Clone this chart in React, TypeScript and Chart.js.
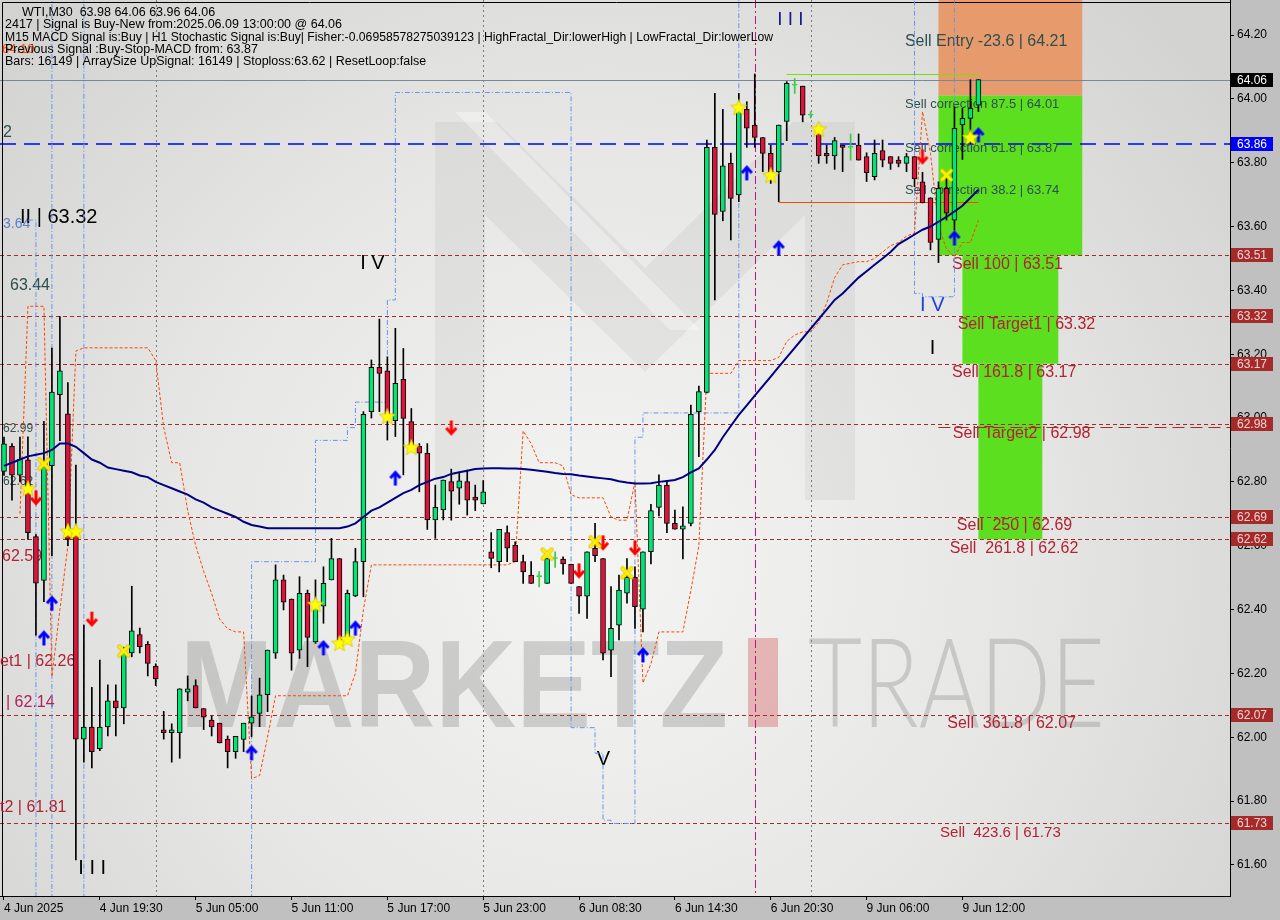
import React, { useEffect, useRef } from 'react';
import { Chart, registerables } from 'chart.js';

Chart.register(...registerables);

const FONT = '"Liberation Sans", Arial, sans-serif';
const SLOTS = 154;
const Y_MIN = 61.5026;
const Y_MAX = 64.3097;

const xTickIdx = [0, 12, 24, 36, 48, 60, 72, 84, 96, 108, 120];
const xTickText = ['4 Jun 2025', '4 Jun 19:30', '5 Jun 05:00', '5 Jun 11:00', '5 Jun 17:00', '5 Jun 23:00', '6 Jun 08:30', '6 Jun 14:30', '6 Jun 20:30', '9 Jun 06:00', '9 Jun 12:00'];
const yTicks = [64.2, 64.0, 63.8, 63.6, 63.4, 63.2, 63.0, 62.8, 62.6, 62.4, 62.2, 62.0, 61.8, 61.6];

const opens = [62.833, 62.911, 62.821, 62.869, 62.629, 62.491, 62.851, 63.073, 63.013, 62.635,
  61.994, 62.032, 61.964, 62.032, 62.114, 62.092, 62.264, 62.322, 62.291, 62.222,
  62.023, 62.014, 62.014, 62.141, 62.162, 62.09, 62.054, 62.044, 61.994, 61.955,
  61.993, 62.044, 62.075, 62.133, 62.263, 62.493, 62.433, 62.273, 62.451, 62.299,
  62.411, 62.493, 62.56, 62.315, 62.443, 62.55, 63.02, 63.159, 63.148, 62.992,
  63.121, 62.989, 62.912, 62.89, 62.681, 62.712, 62.801, 62.78, 62.801, 62.752,
  62.731, 62.581, 62.55, 62.641, 62.602, 62.55, 62.508, 62.503, 62.482, 62.56,
  62.558, 62.542, 62.472, 62.442, 62.592, 62.56, 62.273, 62.351, 62.451, 62.501,
  62.401, 62.581, 62.72, 62.79, 62.67, 62.652, 62.67, 63.02, 63.08, 63.848,
  63.647, 63.798, 63.699, 63.967, 63.918, 63.879, 63.829, 63.772, 63.929, 64.043,
  64.04, 63.949, 63.897, 63.829, 63.821, 63.855, 63.848, 63.855, 63.819, 63.756,
  63.838, 63.819, 63.808, 63.798, 63.819, 63.74, 63.69, 63.56, 63.72, 63.62,
  63.918, 63.939, 63.98];

const highs = [62.94, 62.92, 62.94, 62.941, 62.635, 62.99, 63.219, 63.318, 63.111, 62.853,
  62.351, 62.156, 62.242, 62.164, 62.164, 62.282, 62.473, 62.342, 62.30, 62.23,
  62.081, 62.042, 62.152, 62.192, 62.18, 62.09, 62.066, 62.044, 62.004, 62.003,
  62.044, 62.129, 62.185, 62.273, 62.54, 62.508, 62.433, 62.503, 62.461, 62.493,
  62.534, 62.623, 62.56, 62.461, 62.592, 63.02, 63.182, 63.31, 63.192, 63.281,
  63.218, 63.03, 62.92, 62.92, 62.79, 62.806, 62.84, 62.827, 62.837, 62.79,
  62.804, 62.641, 62.651, 62.662, 62.612, 62.571, 62.55, 62.519, 62.56, 62.581,
  62.565, 62.542, 62.472, 62.581, 62.67, 62.56, 62.472, 62.508, 62.56, 62.534,
  62.581, 62.73, 62.822, 62.804, 62.712, 62.722, 63.041, 63.10, 63.871, 64.017,
  63.967, 63.83, 64.017, 63.991, 64.078, 63.879, 63.855, 63.918, 64.054, 64.064,
  64.04, 63.96, 63.918, 63.855, 63.879, 63.855, 63.89, 63.89, 63.831, 63.871,
  63.871, 63.819, 63.819, 63.829, 63.819, 63.77, 63.69, 63.74, 63.761, 63.975,
  63.97, 64.06, 64.06];

const lows = [62.82, 62.743, 62.80, 62.62, 62.32, 62.425, 62.569, 62.929, 62.60, 61.616,
  61.922, 61.904, 61.958, 62.004, 62.004, 62.042, 62.252, 62.264, 62.192, 62.162,
  61.994, 61.922, 61.934, 62.114, 62.092, 62.024, 62.004, 61.982, 61.904, 61.934,
  61.955, 62.002, 62.033, 62.08, 62.247, 62.399, 62.21, 62.247, 62.221, 62.294,
  62.357, 62.493, 62.29, 62.30, 62.44, 62.44, 63.0, 63.02, 62.931, 62.942,
  62.822, 62.91, 62.769, 62.651, 62.623, 62.681, 62.68, 62.73, 62.696, 62.71,
  62.731, 62.531, 62.518, 62.55, 62.55, 62.482, 62.482, 62.471, 62.482, 62.532,
  62.511, 62.482, 62.388, 62.372, 62.55, 62.242, 62.19, 62.305, 62.42, 62.341,
  62.33, 62.543, 62.693, 62.641, 62.652, 62.559, 62.662, 62.879, 63.079, 63.37,
  63.618, 63.558, 63.678, 63.848, 63.848, 63.772, 63.735, 63.678, 63.869, 64.017,
  63.928, 63.94, 63.798, 63.798, 63.779, 63.772, 63.808, 63.808, 63.741, 63.746,
  63.787, 63.779, 63.787, 63.772, 63.725, 63.674, 63.527, 63.487, 63.62, 63.589,
  63.81, 63.86, 63.96];

const closes = [62.919, 62.821, 62.871, 62.641, 62.483, 62.847, 63.081, 63.148, 62.62, 61.994,
  62.032, 61.955, 62.032, 62.114, 62.092, 62.264, 62.333, 62.284, 62.231, 62.183,
  62.014, 62.023, 62.152, 62.152, 62.092, 62.063, 62.032, 61.982, 61.955, 62.003,
  62.044, 62.064, 62.133, 62.273, 62.493, 62.423, 62.263, 62.451, 62.313, 62.409,
  62.482, 62.56, 62.305, 62.451, 62.55, 63.012, 63.159, 63.14, 63.01, 63.109,
  62.999, 62.91, 62.89, 62.681, 62.72, 62.806, 62.771, 62.803, 62.743, 62.743,
  62.769, 62.56, 62.651, 62.592, 62.55, 62.518, 62.482, 62.503, 62.56, 62.56,
  62.543, 62.482, 62.442, 62.581, 62.569, 62.263, 62.341, 62.461, 62.501, 62.409,
  62.581, 62.71, 62.79, 62.67, 62.652, 62.662, 63.012, 63.083, 63.848, 63.638,
  63.79, 63.688, 63.965, 63.908, 63.879, 63.829, 63.772, 63.918, 64.049, 64.043,
  63.949, 63.949, 63.821, 63.821, 63.869, 63.848, 63.848, 63.808, 63.769, 63.829,
  63.808, 63.798, 63.798, 63.819, 63.749, 63.674, 63.55, 63.72, 63.642, 63.908,
  63.939, 63.97, 64.06];

const maValues = [62.85, 62.86, 62.87, 62.88, 62.885, 62.89, 62.90, 62.92, 62.92, 62.91,
  62.89, 62.87, 62.86, 62.845, 62.84, 62.835, 62.83, 62.82, 62.815, 62.80,
  62.79, 62.78, 62.77, 62.76, 62.745, 62.735, 62.72, 62.71, 62.70, 62.69,
  62.675, 62.665, 62.66, 62.655, 62.655, 62.655, 62.655, 62.655, 62.655, 62.655,
  62.655, 62.655, 62.655, 62.66, 62.67, 62.69, 62.71, 62.72, 62.735, 62.75,
  62.765, 62.775, 62.79, 62.80, 62.81, 62.815, 62.825, 62.83, 62.835, 62.84,
  62.842, 62.843, 62.843, 62.842, 62.842, 62.84, 62.838, 62.835, 62.832, 62.828,
  62.825, 62.824, 62.82, 62.817, 62.814, 62.811, 62.808, 62.802, 62.798, 62.795,
  62.795, 62.796, 62.80, 62.803, 62.806, 62.815, 62.83, 62.842, 62.87, 62.90,
  62.94, 62.975, 63.01, 63.04, 63.07, 63.10, 63.13, 63.16, 63.19, 63.22,
  63.25, 63.28, 63.31, 63.34, 63.37, 63.39, 63.415, 63.44, 63.46, 63.48,
  63.50, 63.52, 63.545, 63.56, 63.575, 63.59, 63.60, 63.615, 63.63, 63.647,
  63.665, 63.69, 63.715];

const orangeBand = [null, null, 62.70, 63.35, 63.35, 63.35, 62.19, 62.40, 62.60, 63.21,
  63.22, 63.22, 63.22, 63.22, 63.22, 63.22, 63.22, 63.22, 63.22, 63.18,
  62.97, 62.86, 62.86, 62.71, 62.60, 62.52, 62.45, 62.37, 62.34, 62.33,
  62.33, 61.87, 61.88, 62.00, 62.13, 62.13, 62.13, 62.13, 62.13, 62.13,
  62.13, 62.13, 62.13, 62.13, 62.20, 62.40, 62.54, 62.54, 62.54, 62.54,
  62.54, 62.54, 62.54, 62.54, 62.54, 62.54, 62.54, 62.54, 62.54, 62.54,
  62.54, 62.54, 62.54, 62.54, 62.55, 62.96, 62.92, 62.86, 62.86, 62.86,
  62.85, 62.76, 62.75, 62.75, 62.75, 62.75, 62.69, 62.68, 62.68, 62.80,
  62.17, 62.23, 62.33, 62.33, 62.33, 62.33, 62.46, 62.60, 63.14, 63.14,
  63.14, 63.14, 63.18, 63.18, 63.18, 63.18, 63.18, 63.19, 63.24, 63.26,
  63.27, 63.27, 63.30, 63.36, 63.44, 63.48, 63.485, 63.49, 63.49, 63.50,
  63.52, 63.54, 63.55, 63.57, 63.58, 63.96, 63.83, 63.60, 63.53, 63.505,
  63.55, 63.55, 63.62];

const blueBand = [null, null, null, 63.62, 61.2, 61.2, 64.6, 64.6, 64.6, 64.6,
  61.2, 61.2, 61.2, 61.2, 61.2, 61.2, 61.2, 61.2, 61.2, 61.2,
  61.2, 61.2, 61.2, 61.2, 61.2, 61.2, 61.2, 61.2, 61.2, 61.2,
  61.2, 62.55, 62.55, 62.55, 62.55, 62.55, 62.55, 62.55, 62.55, 62.93,
  62.93, 62.93, 62.93, 62.97, 63.05, 63.05, 63.05, 63.05, 63.37, 64.02,
  64.02, 64.02, 64.02, 64.02, 64.02, 64.02, 64.02, 64.02, 64.02, 64.02,
  64.02, 64.02, 64.02, 64.02, 64.02, 64.02, 64.02, 64.02, 64.02, 64.02,
  64.02, 62.03, 62.03, 62.03, 61.95, 61.74, 61.73, 61.73, 61.73, 62.94,
  63.016, 63.016, 63.016, 63.016, 63.016, 63.016, 63.016, 63.016, 63.016, 63.016,
  63.016, 63.016, 64.6, 64.6, 64.6, 64.6, 64.6, 64.6, 64.6, 64.6,
  64.6, 64.6, 64.6, 64.6, 64.6, 64.6, 64.6, 64.6, 64.6, 64.6,
  64.6, 64.6, 64.6, 64.6, 63.39, 63.38, 63.38, 63.38, 63.38, 64.6,
  64.6, 64.6, 64.6];

const starIdx = [3, 8, 9, 39, 42, 43, 48, 51, 92, 96, 102, 121];
const starPrice = [62.78, 62.646, 62.646, 62.417, 62.295, 62.308, 63.006, 62.909, 63.974, 63.761, 63.906, 63.88];
const crossIdx = [5, 15, 68, 74, 78, 118];
const crossPrice = [62.856, 62.27, 62.574, 62.612, 62.515, 63.761];
const upIdx = [5, 6, 31, 40, 44, 49, 80, 93, 97, 119, 122];
const upPrice = [62.311, 62.42, 61.951, 62.28, 62.342, 62.812, 62.258, 63.768, 63.533, 63.564, 63.887];
const downIdx = [4, 11, 56, 72, 75, 79, 115];
const downPrice = [62.75, 62.37, 62.969, 62.521, 62.609, 62.593, 63.818];

const levelPrices = [63.51, 63.32, 63.17, 62.98, 62.69, 62.62, 62.07, 61.73];
const bluePrice = 63.86;
const lastPrice = 64.06;
const target2Shadow = 62.972;
const boxTopPrice = 64.077;
const boxBottomPrice = 63.678;

const zoneX0 = [117, 117, 120, 122];
const zoneX1 = [135, 135, 132, 130];
const zoneTop = [64.35, 64.01, 63.51, 63.17];
const zoneBottom = [64.01, 63.51, 63.17, 62.62];

const daySepIdx = [19, 60, 101];
const magentaIdx = 94;

const sellTexts = ['Sell Entry -23.6 | 64.21', 'Sell correction 87.5 | 64.01', 'Sell correction 61.8 | 63.87', 'Sell correction 38.2 | 63.74', 'Sell 100 | 63.51', 'Sell Target1 | 63.32', 'Sell 161.8 | 63.17', 'Sell Target2 | 62.98', 'Sell  250 | 62.69', 'Sell  261.8 | 62.62', 'Sell  361.8 | 62.07', 'Sell  423.6 | 61.73'];
const sellLevel = [64.21, 64.01, 63.87, 63.74, 63.51, 63.32, 63.17, 62.98, 62.69, 62.62, 62.07, 61.73];
const sellIdx = [112.8, 112.8, 112.8, 112.8, 118.7, 119.4, 118.7, 118.8, 119.3, 118.4, 118.1, 117.2];

const leftTexts = ['2', '3.64', '63.44', '62.99', '62.62', '62.59', 'et1 | 62.26', '| 62.14', 't2 | 61.81', '64.10'];
const leftIdx = [-0.12, -0.12, 0.75, -0.12, -0.12, -0.25, -0.5, 0.25, -0.5, -0.25];
const leftPrice = [63.893, 63.608, 63.414, 62.966, 62.80, 62.565, 62.236, 62.11, 61.78, 64.156];

const waveTexts = ['I I I', 'I V', 'I V', 'I', 'V', 'I I I', 'II | 63.32'];
const waveIdx = [96.8, 44.6, 114.7, 115.9, 74.2, 9.3, 2.0];
const wavePrice = [64.247, 63.483, 63.354, 63.219, 61.929, 61.59, 63.627];

const axisPrices = [64.06, 63.86, 63.51, 63.32, 63.17, 62.98, 62.69, 62.62, 62.07, 61.73];

const infoLines = [
  'WTI,M30  63.98 64.06 63.96 64.06',
  '2417 | Signal is Buy-New from:2025.06.09 13:00:00 @ 64.06',
  'M15 MACD Signal is:Buy | H1 Stochastic Signal is:Buy| Fisher:-0.06958578275039123 | HighFractal_Dir:lowerHigh | LowFractal_Dir:lowerLow',
  'Previous Signal :Buy-Stop-MACD from: 63.87',
  'Bars: 16149 | ArraySize UpSignal: 16149 | Stoploss:63.62 | ResetLoop:false',
];

function mk(w: number, h: number, draw: (g: CanvasRenderingContext2D) => void) {
  const c = document.createElement('canvas');
  c.width = w; c.height = h;
  const g = c.getContext('2d') as CanvasRenderingContext2D;
  draw(g);
  return c;
}

function makeStar() {
  return mk(18, 18, (g) => {
    g.beginPath();
    for (let k = 0; k < 10; k++) {
      const r = k % 2 === 0 ? 8.5 : 3.6;
      const a = -Math.PI / 2 + (k * Math.PI) / 5;
      const x = 9 + r * Math.cos(a);
      const y = 9.8 + r * Math.sin(a);
      if (k) g.lineTo(x, y); else g.moveTo(x, y);
    }
    g.closePath();
    g.fillStyle = '#FFFF00';
    g.fill();
    g.strokeStyle = '#DCC400';
    g.lineWidth = 0.8;
    g.stroke();
  });
}

function makeCross() {
  return mk(15, 15, (g) => {
    const path = () => { g.beginPath(); g.moveTo(3, 3); g.lineTo(12, 12); g.moveTo(12, 3); g.lineTo(3, 12); };
    g.lineCap = 'round';
    path(); g.strokeStyle = '#D8B800'; g.lineWidth = 4.2; g.stroke();
    path(); g.strokeStyle = '#FFF200'; g.lineWidth = 2.6; g.stroke();
  });
}

function makeArrow(color: string, up: boolean) {
  return mk(14, 17, (g) => {
    if (!up) { g.translate(0, 17); g.scale(1, -1); }
    g.strokeStyle = color;
    g.lineWidth = 3;
    g.lineJoin = 'miter';
    g.beginPath(); g.moveTo(2, 8.5); g.lineTo(7, 3); g.lineTo(12, 8.5); g.stroke();
    g.beginPath(); g.moveTo(7, 4); g.lineTo(7, 16); g.stroke();
  });
}

function txt(ctx: CanvasRenderingContext2D, s: string, x: number, y: number, size: number, color: string, weight = 'normal', maxW?: number) {
  ctx.font = `${weight} ${size}px ${FONT}`;
  ctx.fillStyle = color;
  ctx.textAlign = 'left';
  ctx.textBaseline = 'middle';
  if (maxW) ctx.fillText(s, x, y, maxW); else ctx.fillText(s, x, y);
}

const mtPlugin = {
  id: 'mtDecor',
  beforeDraw(chart: any) {
    const { ctx, chartArea: a, width, height } = chart;
    ctx.save();
    ctx.fillStyle = '#C0C0C0';
    ctx.fillRect(0, 0, width, height);
    const g = ctx.createRadialGradient(600, 560, 0, 600, 560, 780);
    g.addColorStop(0, '#F4F4F3');
    g.addColorStop(0.55, '#E6E6E4');
    g.addColorStop(1, '#D3D3D1');
    ctx.fillStyle = g;
    ctx.fillRect(a.left, a.top, a.right - a.left, a.bottom - a.top);
    ctx.restore();
  },
  beforeDatasetsDraw(chart: any) {
    const { ctx, chartArea: a, scales } = chart;
    const px = (v: number) => scales.x.getPixelForValue(v);
    const py = (v: number) => scales.y.getPixelForValue(v);
    ctx.save();
    ctx.beginPath();
    ctx.rect(a.left, a.top, a.right - a.left, a.bottom - a.top);
    ctx.clip();

    // big M logo (background decoration)
    ctx.fillStyle = 'rgba(150,150,150,0.12)';
    ctx.beginPath();
    const M = [[435, 122], [497, 122], [645, 268], [793, 122], [855, 122], [855, 500], [805, 500], [805, 215], [645, 372], [485, 215], [485, 500], [435, 500]];
    M.forEach((p, k) => (k ? ctx.lineTo(p[0], p[1]) : ctx.moveTo(p[0], p[1])));
    ctx.closePath();
    ctx.fill();
    ctx.fillStyle = 'rgba(255,255,255,0.35)';
    ctx.beginPath();
    ctx.moveTo(455, 112); ctx.lineTo(485, 112); ctx.lineTo(700, 330); ctx.lineTo(670, 330); ctx.closePath();
    ctx.fill();

    // watermark
    ctx.save();
    ctx.font = `bold 124px ${FONT}`;
    ctx.textBaseline = 'alphabetic';
    ctx.fillStyle = 'rgba(140,140,140,0.36)';
    let w = ctx.measureText('MARKETZ').width;
    ctx.translate(180, 727); ctx.scale(548 / w, 1); ctx.fillText('MARKETZ', 0, 0);
    ctx.restore();
    ctx.fillStyle = 'rgba(214,110,110,0.45)';
    ctx.fillRect(748, 638, 30, 89);
    ctx.save();
    ctx.font = `300 124px Lato, ${FONT}`;
    ctx.fillStyle = 'rgba(140,140,140,0.36)';
    w = ctx.measureText('TRADE').width;
    ctx.translate(808, 727); ctx.scale(297 / w, 1); ctx.fillText('TRADE', 0, 0);
    ctx.restore();

    // zones
    const zoneColors = ['#E79A6C', '#5BDF1F', '#5BDF1F', '#5BDF1F'];
    zoneX0.forEach((x0, k) => {
      const l = px(x0), r = px(zoneX1[k]);
      const t = py(zoneTop[k]), b = py(zoneBottom[k]);
      ctx.fillStyle = zoneColors[k];
      ctx.fillRect(l, t, r - l, b - t);
    });

    // vertical lines
    ctx.lineWidth = 1;
    ctx.strokeStyle = '#7C7C7C';
    ctx.setLineDash([2, 3]);
    daySepIdx.forEach((i) => {
      const x = Math.round(px(i)) + 0.5;
      ctx.beginPath(); ctx.moveTo(x, a.top); ctx.lineTo(x, a.bottom); ctx.stroke();
    });
    ctx.strokeStyle = '#C0157F';
    ctx.setLineDash([8, 3, 2, 3]);
    const mx = Math.round(px(magentaIdx)) + 0.5;
    ctx.beginPath(); ctx.moveTo(mx, a.top); ctx.lineTo(mx, a.bottom); ctx.stroke();

    // horizontal levels
    ctx.strokeStyle = '#A52A2A';
    ctx.setLineDash([4, 3]);
    levelPrices.forEach((p) => {
      const y = Math.round(py(p)) + 0.5;
      ctx.beginPath(); ctx.moveTo(a.left, y); ctx.lineTo(a.right, y); ctx.stroke();
    });
    ctx.setLineDash([12, 6]);
    const ys = Math.round(py(target2Shadow)) + 0.5;
    ctx.beginPath(); ctx.moveTo(px(117), ys); ctx.lineTo(a.right, ys); ctx.stroke();

    ctx.setLineDash([]);
    ctx.strokeStyle = '#778899';
    const yl = Math.round(py(lastPrice)) + 0.5;
    ctx.beginPath(); ctx.moveTo(a.left, yl); ctx.lineTo(a.right, yl); ctx.stroke();

    ctx.strokeStyle = '#0000FF';
    ctx.lineWidth = 1.5;
    ctx.setLineDash([16, 8]);
    const yb = Math.round(py(bluePrice));
    ctx.beginPath(); ctx.moveTo(a.left, yb); ctx.lineTo(a.right, yb); ctx.stroke();

    // small box lines
    ctx.setLineDash([]);
    ctx.lineWidth = 1;
    ctx.strokeStyle = '#7CE000';
    const yt = Math.round(py(boxTopPrice)) + 0.5;
    ctx.beginPath(); ctx.moveTo(px(98), yt); ctx.lineTo(px(122), yt); ctx.stroke();
    ctx.strokeStyle = '#FF4500';
    const ybb = Math.round(py(boxBottomPrice)) + 0.5;
    ctx.beginPath(); ctx.moveTo(px(97), ybb); ctx.lineTo(px(122), ybb); ctx.stroke();

    // frame (left / top)
    ctx.strokeStyle = '#000';
    ctx.beginPath(); ctx.moveTo(2.5, a.bottom); ctx.lineTo(2.5, 2.5); ctx.lineTo(a.right, 2.5); ctx.stroke();

    // sell labels
    sellTexts.forEach((s, k) => {
      const isEntry = k === 0;
      const isCorr = k >= 1 && k <= 3;
      const size = isEntry ? 16 : isCorr ? 13 : k === 11 ? 15 : 16;
      const color = isEntry || isCorr ? '#2F4F4F' : '#B22234';
      const off = isEntry ? 10 : isCorr ? 8.5 : 9;
      txt(ctx, s, px(sellIdx[k]), py(sellLevel[k]) + off, size, color);
    });

    // left cut labels
    const leftSize = [16, 14, 16, 12, 12, 16, 16, 16, 16, 13];
    const leftColor = ['#2F4F4F', '#5A80C8', '#2F4F4F', '#2F4F4F', '#2F4F4F', '#B22234', '#B22234', '#B0225A', '#B22234', '#FF4500'];
    leftTexts.forEach((s, k) => txt(ctx, s, px(leftIdx[k]), py(leftPrice[k]), leftSize[k], leftColor[k]));

    // wave labels
    const waveSize = [19, 20, 20, 20, 20, 20, 20];
    const waveColor = ['#1A1A8C', '#000000', '#1F3FE0', '#000000', '#000000', '#000000', '#000000'];
    waveTexts.forEach((s, k) => txt(ctx, s, px(waveIdx[k]), py(wavePrice[k]), waveSize[k], waveColor[k]));

    ctx.restore();
  },
  afterDatasetsDraw(chart: any) {
    const { ctx, chartArea: a, scales } = chart;
    const py = (v: number) => scales.y.getPixelForValue(v);
    ctx.save();
    // info comment
    const infoX = [22, 5, 5, 5, 5];
    const infoY = [12.5, 25, 37.5, 49.5, 61.5];
    infoLines.forEach((s, k) => txt(ctx, s, infoX[k], infoY[k], 12.5, '#000', 'normal', k === 2 ? 768 : undefined));
    // axis price boxes
    axisPrices.forEach((p, k) => {
      const y = Math.round(py(p));
      const bg = k === 0 ? '#000000' : k === 1 ? '#0000FF' : '#A52A2A';
      const fg = k <= 1 ? '#FFFFFF' : '#F8D4D4';
      ctx.fillStyle = bg;
      ctx.fillRect(a.right + 1, y - 7, 42, 14);
      txt(ctx, p.toFixed(2), a.right + 7, y + 0.5, 12, fg);
    });
    ctx.restore();
  },
};

const zeroPad = (scale: any) => {
  scale.paddingTop = 0;
  scale.paddingBottom = 0;
  scale.paddingLeft = 0;
  scale.paddingRight = 0;
};

export default function App() {
  const ref = useRef<HTMLCanvasElement>(null);
  useEffect(() => {
    const canvas = ref.current;
    if (!canvas) return;
    Chart.defaults.font.family = FONT;
    const n = opens.length;
    const labels = Array.from({ length: SLOTS }, (_, i) => i);
    const sparse = (idx: number[], val: number[]) => {
      const arr: (number | null)[] = new Array(n).fill(null);
      idx.forEach((k, j) => { arr[k] = val[j]; });
      return arr;
    };
    const isDoji = opens.map((o, i) => Math.abs(closes[i] - o) < 0.002);
    const isUp = opens.map((o, i) => closes[i] >= o);
    const bodyColors = isUp.map((u) => (u ? '#00E676' : '#DC143C'));
    const bodyBorders = isDoji.map((d) => (d ? '#3CCB3C' : '#000000'));
    const wickColors = isDoji.map((d) => (d ? '#3CCB3C' : '#000000'));

    const starImg = makeStar();
    const crossImg = makeCross();
    const upImg = makeArrow('#0000FF', true);
    const downImg = makeArrow('#FF0000', false);

    const markerSet = (data: (number | null)[], img: HTMLCanvasElement) => ({
      type: 'line' as const,
      data,
      showLine: false,
      pointStyle: img,
      pointRadius: 8,
      pointHoverRadius: 8,
      order: 0,
    });

    const chart = new Chart(canvas, {
      type: 'bar',
      data: {
        labels,
        datasets: [
          {
            type: 'line',
            data: blueBand,
            borderColor: '#6495ED',
            borderWidth: 1,
            borderDash: [5, 2, 1, 2],
            stepped: 'before',
            pointRadius: 0,
            spanGaps: false,
            order: 7,
          } as any,
          {
            type: 'line',
            data: orangeBand,
            borderColor: '#FF4500',
            borderWidth: 1,
            borderDash: [3, 2],
            pointRadius: 0,
            tension: 0,
            order: 6,
          } as any,
          {
            type: 'bar',
            data: lows.map((l, i) => [l, highs[i]]),
            backgroundColor: wickColors,
            borderWidth: 0,
            barThickness: 1,
            grouped: false,
            order: 5,
          } as any,
          {
            type: 'bar',
            data: opens.map((o, i) => [o, closes[i]]),
            backgroundColor: bodyColors,
            borderColor: bodyBorders,
            borderWidth: 1,
            borderSkipped: false,
            barThickness: 5,
            minBarLength: 1,
            grouped: false,
            order: 4,
          } as any,
          {
            type: 'line',
            data: maValues,
            borderColor: '#000080',
            borderWidth: 2,
            pointRadius: 0,
            tension: 0,
            order: 3,
          } as any,
          markerSet(sparse(starIdx, starPrice), starImg) as any,
          markerSet(sparse(crossIdx, crossPrice), crossImg) as any,
          markerSet(sparse(upIdx, upPrice), upImg) as any,
          markerSet(sparse(downIdx, downPrice), downImg) as any,
        ],
      },
      options: {
        animation: false,
        responsive: false,
        devicePixelRatio: 1,
        events: [],
        layout: { padding: 0, autoPadding: false },
        plugins: { legend: { display: false }, tooltip: { enabled: false } },
        scales: {
          x: {
            type: 'category',
            offset: true,
            grid: { display: true, offset: false, drawOnChartArea: false, drawTicks: true, tickLength: 4, color: '#000' },
            border: { display: true, color: '#000' },
            ticks: {
              autoSkip: false,
              maxRotation: 0,
              minRotation: 0,
              align: 'start',
              padding: 1,
              color: '#000',
              font: { size: 12, family: FONT },
              callback: (v: any) => {
                const k = xTickIdx.indexOf(Number(v));
                return k >= 0 ? xTickText[k] : '';
              },
            },
            afterBuildTicks: (scale: any) => { scale.ticks = xTickIdx.map((v) => ({ value: v })); },
            afterFit: (scale: any) => { scale.height = 24; zeroPad(scale); },
          },
          y: {
            type: 'linear',
            position: 'right',
            min: Y_MIN,
            max: Y_MAX,
            grid: { display: true, drawOnChartArea: false, drawTicks: true, tickLength: 4, color: '#000' },
            border: { display: true, color: '#000' },
            ticks: {
              padding: 3,
              color: '#000',
              font: { size: 12, family: FONT },
              callback: (v: any) => Number(v).toFixed(2),
            },
            afterBuildTicks: (scale: any) => { scale.ticks = yTicks.map((v) => ({ value: v })); },
            afterFit: (scale: any) => { scale.width = 50; zeroPad(scale); },
          },
        },
      } as any,
      plugins: [mtPlugin],
    });
    return () => chart.destroy();
  }, []);

  return (
    <div style={{ position: 'absolute', left: 0, top: 0, width: 1280, height: 920 }}>
      <canvas ref={ref} width={1280} height={920} style={{ display: 'block', width: 1280, height: 920 }} />
    </div>
  );
}
